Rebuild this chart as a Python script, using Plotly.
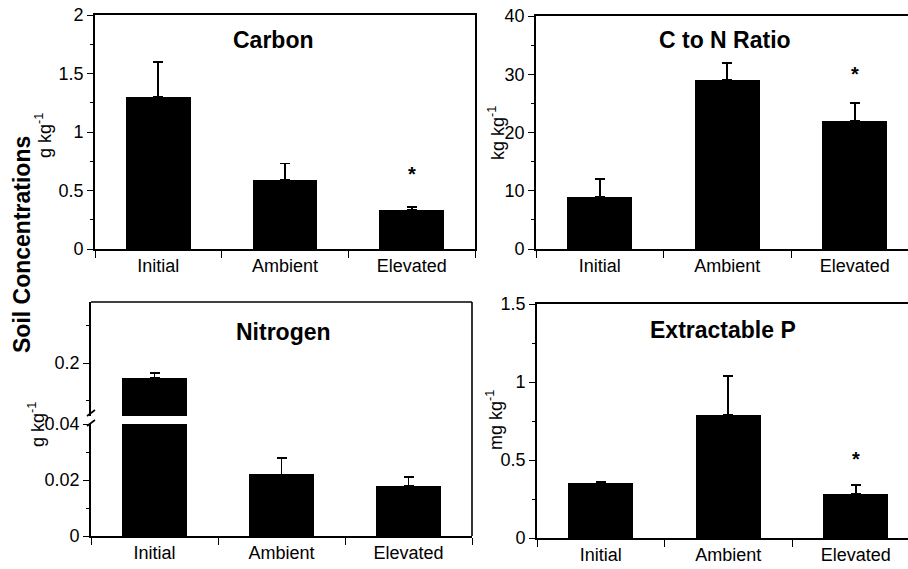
import plotly.graph_objects as go

# ---------------- data ----------------
categories = ["Initial", "Ambient", "Elevated"]

carbon_mean = [1.30, 0.59, 0.33]
carbon_err = [0.30, 0.14, 0.03]

cn_mean = [9.0, 29.0, 22.0]
cn_err = [3.0, 3.0, 3.0]

nitrogen_mean = [0.18, 0.022, 0.018]
nitrogen_err = [0.007, 0.006, 0.003]

p_mean = [0.35, 0.79, 0.28]
p_err = [0.01, 0.25, 0.06]

# significance stars (category, y position)
star_carbon = ("Elevated", 0.675)
star_cn = ("Elevated", 30.7)
star_p = ("Elevated", 0.535)

# ---------------- layout helpers ----------------
W, H = 908, 569
FONT = "Liberation Sans, Arial, Helvetica, sans-serif"


def px_x(p):
    return p / W


def px_y(p):
    return 1 - p / H


BIN = 127.5  # pixel width of one category


def bar_trace(vals, errs, xa, ya):
    return go.Bar(
        x=categories, y=vals, xaxis=xa, yaxis=ya,
        marker=dict(color="black", line=dict(width=0)),
        width=0.51,
        error_y=dict(type="data", array=errs, arrayminus=[0] * len(errs),
                     symmetric=False, color="black", thickness=1.8, width=5),
        showlegend=False, hoverinfo="skip",
    )


fig = go.Figure()
fig.add_trace(bar_trace(carbon_mean, carbon_err, "x", "y"))
fig.add_trace(bar_trace(cn_mean, cn_err, "x2", "y2"))
fig.add_trace(bar_trace(nitrogen_mean, nitrogen_err, "x3", "y3"))
fig.add_trace(bar_trace(p_mean, p_err, "x4", "y4"))
fig.add_trace(bar_trace(nitrogen_mean, nitrogen_err, "x5", "y5"))

tickfont = dict(family=FONT, size=18, color="black")
LW = 1.6


def xax(domain, rng, anchor, mirror=True):
    return dict(domain=domain, range=rng, anchor=anchor, type="category",
                automargin=False,
                showline=True, linecolor="black", linewidth=LW, mirror=mirror,
                ticks="outside", ticklen=7, tickwidth=1.2, tickcolor="black",
                tickson="boundaries", showgrid=False, zeroline=False,
                tickfont=tickfont, fixedrange=True)


def yax(domain, rng, anchor, dtick, minor_dtick, mirror):
    return dict(domain=domain, range=rng, anchor=anchor, automargin=False,
                showline=True, linecolor="black", linewidth=LW, mirror=mirror,
                ticks="outside", ticklen=6, tickwidth=1.2, tickcolor="black",
                dtick=dtick, tick0=0, showgrid=False, zeroline=False,
                tickfont=tickfont, fixedrange=True,
                minor=dict(ticks="outside", ticklen=3, tickwidth=1,
                           tickcolor="black", dtick=minor_dtick, tick0=0,
                           showgrid=False))


# pixel geometry
C_L, C_R, C_T, C_B = 95, 475, 15, 249
CN_L, CN_T, CN_B = 536, 16, 249
N_L, N_R, N_T, N_B = 91, 472, 302, 536
N_LOW_TOP, N_UP_BOT = 424, 416
P_L, P_T, P_B = 537, 304, 538

right_range_cn = [-0.5, -0.5 + (W - CN_L) / BIN]
right_range_p = [-0.5, -0.5 + (W - P_L) / BIN]

# upper nitrogen segment scale: 0.05 per 37.5 px, 0.2 at y=363
n_up_per_px = 0.05 / 37.5
n_up_lo = 0.2 - (N_UP_BOT - 363) * n_up_per_px
n_up_hi = n_up_lo + (N_UP_BOT - N_T) * n_up_per_px

fig.update_layout(
    width=W, height=H, autosize=False,
    margin=dict(l=0, r=0, t=0, b=0, pad=0, autoexpand=False),
    paper_bgcolor="white", plot_bgcolor="white",
    bargap=0.0,
    font=dict(family=FONT, color="black"),
    xaxis=xax([px_x(C_L), px_x(C_R)], [-0.5, 2.5], "y"),
    yaxis=yax([px_y(C_B), px_y(C_T)], [0, 2], "x", 0.5, 0.25, True),
    xaxis2=xax([px_x(CN_L), 1], right_range_cn, "y2"),
    yaxis2=yax([px_y(CN_B), px_y(CN_T)], [0, 40], "x2", 10, 5, False),
    xaxis3=xax([px_x(N_L), px_x(N_R)], [-0.5, 2.5], "y3", mirror=False),
    yaxis3=yax([px_y(N_B), px_y(N_LOW_TOP)], [0, 0.04], "x3", 0.02, 0.01, False),
    xaxis4=xax([px_x(P_L), 1], right_range_p, "y4"),
    yaxis4=yax([px_y(P_B), px_y(P_T)], [0, 1.5], "x4", 0.5, 0.25, False),
    xaxis5=dict(domain=[px_x(N_L), px_x(N_R)], range=[-0.5, 2.5], anchor="y5",
                type="category", visible=False, fixedrange=True, automargin=False),
    yaxis5=dict(domain=[px_y(N_UP_BOT), px_y(N_T)], range=[n_up_lo, n_up_hi],
                anchor="x5", automargin=False,
                showline=True, linecolor="black", linewidth=LW,
                ticks="outside", ticklen=6, tickwidth=1.2, tickcolor="black",
                tickmode="array", tickvals=[0.2], ticktext=["0.2"],
                showgrid=False, zeroline=False, tickfont=tickfont, fixedrange=True,
                minor=dict(ticks="outside", ticklen=3, tickwidth=1,
                           tickcolor="black", dtick=0.05, tick0=0, showgrid=False)),
)

# nitrogen panel frame (top + right) spanning the broken axis
fig.add_shape(type="line", xref="x3 domain", yref="paper", x0=0, x1=1,
              y0=px_y(N_T), y1=px_y(N_T), line=dict(color="black", width=LW))
fig.add_shape(type="line", xref="x3 domain", yref="paper", x0=1, x1=1,
              y0=px_y(N_B), y1=px_y(N_T), line=dict(color="black", width=LW))
# axis break marks
for yb in (413, 423):
    fig.add_shape(type="line", xref="paper", yref="paper",
                  x0=px_x(N_L - 4), x1=px_x(N_L + 4),
                  y0=px_y(yb + 3), y1=px_y(yb - 3),
                  line=dict(color="black", width=1.6))

titlefont = dict(family=FONT, size=23, color="black")
# panel titles
titles = [
    ("<b>Carbon</b>", "x", "y", 0.5 - 12 / (C_R - C_L), (C_B - 40) / (C_B - C_T)),
    ("<b>C to N Ratio</b>", "x2", "y2", (725 - CN_L) / (W - CN_L), (CN_B - 40) / (CN_B - CN_T)),
    ("<b>Nitrogen</b>", "x3", "y5", (283 - N_L) / (N_R - N_L), (N_UP_BOT - 332) / (N_UP_BOT - N_T)),
    ("<b>Extractable P</b>", "x4", "y4", (723 - P_L) / (W - P_L), (P_B - 330) / (P_B - P_T)),
]
for text, xa, ya, xx, yy in titles:
    fig.add_annotation(text=text, xref=f"{xa} domain", yref=f"{ya} domain",
                       x=xx, y=yy, showarrow=False, font=titlefont,
                       xanchor="center", yanchor="middle")

# y unit labels
unitfont = dict(family=FONT, size=18, color="black")
units = [
    ("g kg<sup>-1</sup>", 43, 136),
    ("kg kg<sup>-1</sup>", 496, 133),
    ("g kg<sup>-1</sup>", 36, 425),
    ("mg kg<sup>-1</sup>", 494, 420),
]
for text, xp, yp in units:
    fig.add_annotation(text=text, xref="paper", yref="paper", x=px_x(xp), y=px_y(yp),
                       textangle=-90, showarrow=False, font=unitfont,
                       xanchor="center", yanchor="middle")

# shared y label
fig.add_annotation(text="<b>Soil Concentrations</b>", xref="paper", yref="paper",
                   x=px_x(22), y=px_y(245), textangle=-90, showarrow=False,
                   font=dict(family=FONT, size=23, color="black"),
                   xanchor="center", yanchor="middle")

# significance stars
starfont = dict(family=FONT, size=20, color="black")
for (cat, yv), xa, ya in [(star_carbon, "x", "y"), (star_cn, "x2", "y2"), (star_p, "x4", "y4")]:
    fig.add_annotation(text="<b>*</b>", x=cat, y=yv, xref=xa, yref=ya,
                       showarrow=False, font=starfont, xanchor="center",
                       yanchor="middle", yshift=-4)

fig.write_html("out.html", config={"displayModeBar": False})
